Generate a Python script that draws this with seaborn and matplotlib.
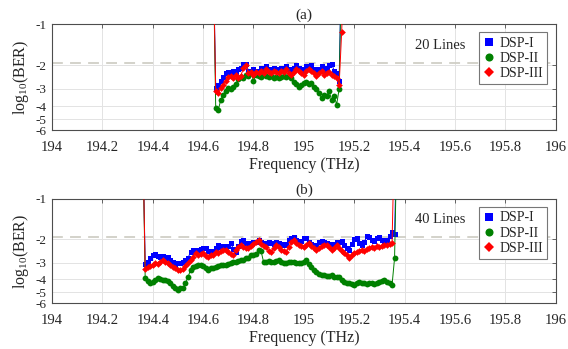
import numpy as np
import matplotlib
matplotlib.use('Agg')
import matplotlib.pyplot as plt
from matplotlib.lines import Line2D
import seaborn as sns

# ---- data: log10(BER) per sub-channel frequency ----
# (a) 20 lines, grid 194.64 ... 195.16 THz (0.01 step)
freq_a = np.round(np.arange(194.64, 195.165, 0.01), 2)
dsp1_a = [-0.3,
          -2.95, -2.8, -2.6, -2.45, -2.3, -2.25, -2.3, -2.2, -2.25, -2.15,
          -2.1, -1.95, -1.95, -2.2, -2.25, -2.15, -2.2, -2.25, -2.1, -2.2,
          -2.05, -2.15, -2.2, -2.1, -2.15, -2.2, -2.1, -2.15, -2.05, -2.15,
          -2.2, -2.1, -2.0, -2.1, -2.15, -2.2, -2.05, -2.1, -2.0, -2.15,
          -2.25, -2.15, -2.05, -2.2, -2.1, -2.0, -1.95, -2.2, -2.3, -2.6,
          -0.3, -0.2]
dsp2_a = [-0.3,
          -4.15, -4.3, -3.6, -3.3, -3.1, -2.95, -3.0, -2.9, -2.75, -2.55,
          -2.45, -2.5, -2.35, -2.4, -2.3, -2.6, -2.35, -2.4, -2.45, -2.3,
          -2.4, -2.45, -2.4, -2.5, -2.45, -2.5, -2.45, -2.4, -2.45, -2.4,
          -2.5, -2.65, -2.75, -2.9, -2.8, -2.7, -2.65, -2.75, -2.7, -2.9,
          -3.0, -3.2, -3.5, -3.3, -3.4, -3.1, -3.6, -3.35, -3.9, -3.0,
          -0.3, -0.2]
dsp3_a = [-0.3,
          -3.1, -3.2, -2.95, -2.8, -2.6, -2.45, -2.4, -2.5, -2.35, -2.5,
          -2.4, -2.1, -2.0, -2.3, -2.25, -2.35, -2.25, -2.3, -2.2, -2.3,
          -2.15, -2.25, -2.3, -2.2, -2.25, -2.3, -2.2, -2.25, -2.15, -2.3,
          -2.35, -2.25, -2.15, -2.2, -2.3, -2.35, -2.2, -2.15, -2.2, -2.3,
          -2.4, -2.3, -2.2, -2.35, -2.3, -2.25, -2.35, -2.4, -2.5, -2.8,
          -1.15, -0.3]

# (b) 40 lines, grid 194.36 ... 195.37 THz (0.01 step)
freq_b = np.round(np.arange(194.36, 195.375, 0.01), 2)
dsp1_b = [-0.3,
          -3.07, -2.96, -2.77, -2.63, -2.58, -2.67, -2.72, -2.67, -2.77, -2.72,
          -2.86, -2.96, -3.12, -3.01, -3.01, -2.96, -2.86, -2.77, -2.49, -2.41,
          -2.45, -2.41, -2.37, -2.33, -2.33, -2.45, -2.49, -2.45, -2.33, -2.21,
          -2.29, -2.25, -2.29, -2.25, -2.13, -2.37, -2.49, -2.25, -2.06, -2.03,
          -2.13, -2.17, -2.13, -2.10, -2.10, -2.03, -2.10, -2.17, -2.13, -2.10,
          -2.13, -2.17, -2.10, -2.13, -2.21, -2.17, -2.21, -2.03, -1.96, -1.93,
          -2.03, -2.13, -2.06, -1.96, -1.96, -2.10, -2.17, -2.21, -2.21, -2.10,
          -2.06, -2.10, -2.13, -2.17, -2.25, -2.17, -2.10, -2.10, -2.06, -2.21,
          -2.33, -2.41, -2.17, -1.99, -1.96, -2.13, -2.21, -2.10, -1.89, -1.93,
          -2.03, -2.06, -1.96, -1.93, -2.03, -2.10, -2.03, -1.89, -1.77, -1.83,
          -0.3]
dsp2_b = [-0.3,
          -3.90, -4.11, -4.26, -4.18, -4.04, -3.90, -3.97, -4.04, -4.04, -4.11,
          -4.26, -4.48, -4.64, -4.80, -4.64, -4.64, -4.26, -3.84, -3.40, -3.23,
          -3.18, -3.12, -3.12, -3.18, -3.29, -3.40, -3.29, -3.29, -3.23, -3.18,
          -3.12, -3.12, -3.12, -3.07, -3.01, -2.96, -2.96, -2.91, -2.86, -2.86,
          -2.77, -2.77, -2.63, -2.63, -2.58, -2.41, -2.45, -2.96, -2.96, -2.91,
          -2.96, -2.96, -2.91, -2.86, -2.96, -3.01, -3.01, -2.96, -2.96, -2.96,
          -3.01, -3.01, -3.01, -2.96, -2.86, -3.07, -3.23, -3.40, -3.52, -3.65,
          -3.71, -3.71, -3.77, -3.77, -3.71, -3.84, -3.84, -3.84, -4.04, -4.18,
          -4.26, -4.26, -4.33, -4.40, -4.26, -4.18, -4.26, -4.26, -4.33, -4.26,
          -4.26, -4.33, -4.26, -4.18, -4.11, -4.04, -4.18, -4.26, -4.40, -2.77,
          -0.3]
dsp3_b = [-0.3,
          -3.35, -3.23, -3.18, -3.12, -3.01, -3.07, -2.96, -2.86, -2.96, -3.01,
          -3.12, -3.23, -3.29, -3.40, -3.40, -3.35, -3.18, -3.01, -2.86, -2.72,
          -2.54, -2.63, -2.58, -2.54, -2.67, -2.72, -2.63, -2.63, -2.49, -2.54,
          -2.45, -2.41, -2.41, -2.49, -2.58, -2.63, -2.41, -2.29, -2.21, -2.29,
          -2.33, -2.33, -2.25, -2.17, -2.10, -2.03, -2.17, -2.25, -2.29, -2.45,
          -2.49, -2.33, -2.21, -2.29, -2.41, -2.45, -2.49, -2.29, -2.10, -2.03,
          -2.13, -2.21, -2.25, -2.29, -2.21, -2.13, -2.25, -2.33, -2.41, -2.33,
          -2.25, -2.21, -2.21, -2.29, -2.41, -2.33, -2.21, -2.33, -2.45, -2.54,
          -2.63, -2.77, -2.63, -2.54, -2.49, -2.45, -2.41, -2.45, -2.37, -2.33,
          -2.29, -2.33, -2.25, -2.29, -2.25, -2.21, -2.21, -2.17, -2.13,
          -0.3, -0.2]

threshold = -1.92
yticks = [-6, -5, -4, -3, -2, -1]
xticks = [194, 194.2, 194.4, 194.6, 194.8, 195, 195.2, 195.4, 195.6, 195.8, 196]
series_names = ['DSP-I', 'DSP-II', 'DSP-III']

# ---- style ----
sns.set_style('whitegrid')
plt.rcParams['font.family'] = ['Liberation Serif', 'DejaVu Serif']
plt.rcParams['mathtext.fontset'] = 'custom'
plt.rcParams['mathtext.rm'] = 'Liberation Serif'
plt.rcParams['mathtext.it'] = 'Liberation Serif:italic'
plt.rcParams['axes.unicode_minus'] = False

colors = ['#0000ff', '#008000', '#ff0000']
markers = ['s', 'o', 'D']
msizes = [3.6, 4.2, 3.4]


def fwd(y):
    # axis is linear in log(-log10 BER)
    return -np.log(np.clip(-np.asarray(y, dtype=float), 1e-3, None))


def inv(t):
    return -np.exp(-np.asarray(t, dtype=float))


fig = plt.figure(figsize=(5.68, 3.49), dpi=100)
ax_a = fig.add_axes([0.0915, 0.6275, 0.887, 0.3037])
ax_b = fig.add_axes([0.0915, 0.1318, 0.887, 0.2980])

panels = [
    (ax_a, freq_a, [dsp1_a, dsp2_a, dsp3_a], '(a)', '20 Lines'),
    (ax_b, freq_b, [dsp1_b, dsp2_b, dsp3_b], '(b)', '40 Lines'),
]

for ax, freq, data, title, note in panels:
    ax.set_yscale('function', functions=(fwd, inv))
    ax.axhline(threshold, color='#d0cfc6', lw=1.3, ls=(0, (6, 4)), zorder=1)
    for vals, c, m, ms in zip(data, colors, markers, msizes):
        sns.lineplot(x=freq, y=vals, ax=ax, color=c, marker=m, markersize=ms,
                     markeredgewidth=0, linewidth=0.7, sort=False,
                     estimator=None, zorder=3)
    ax.set_xlim(194, 196)
    ax.set_ylim(-6, -1)
    ax.set_yticks(yticks)
    ax.set_yticklabels([str(t) for t in yticks])
    ax.set_xticks(xticks)
    ax.set_xticklabels([f'{t:g}' for t in xticks])
    ax.minorticks_off()
    ax.grid(True, color='#e3e3e3', lw=0.7)
    for s in ax.spines.values():
        s.set_color('#4d4d4d')
        s.set_linewidth(0.8)
    ax.tick_params(direction='in', length=3, width=0.6, color='#4d4d4d',
                   labelcolor='#262626', top=True, right=True)
    ax.tick_params(axis='x', pad=8, labelsize=10.5)
    ax.tick_params(axis='y', pad=4, labelsize=9.5)
    ax.set_xlabel('Frequency (THz)', fontsize=11.5, color='#262626', labelpad=2)
    ax.set_ylabel(r'log$_{10}$(BER)', fontsize=11.5, color='#262626', labelpad=3)
    ax.set_title(title, fontsize=11, color='#262626', pad=4)
    ax.text(0.77, 0.80, note, transform=ax.transAxes, ha='center', va='center',
            fontsize=10.5, color='#262626')
    handles = [Line2D([], [], color=c, marker=m, linestyle='none', markersize=ms + 1.6,
                      markeredgewidth=0)
               for c, m, ms in zip(colors, markers, msizes)]
    leg = ax.legend(handles, series_names, loc='upper right', fontsize=10,
                    frameon=True, fancybox=False, framealpha=1, edgecolor='#777777',
                    handlelength=0.8, handletextpad=0.4, labelspacing=0.15,
                    borderpad=0.3, borderaxespad=0.6)
    leg.get_frame().set_linewidth(0.8)

fig.savefig('out.png', dpi=100)
